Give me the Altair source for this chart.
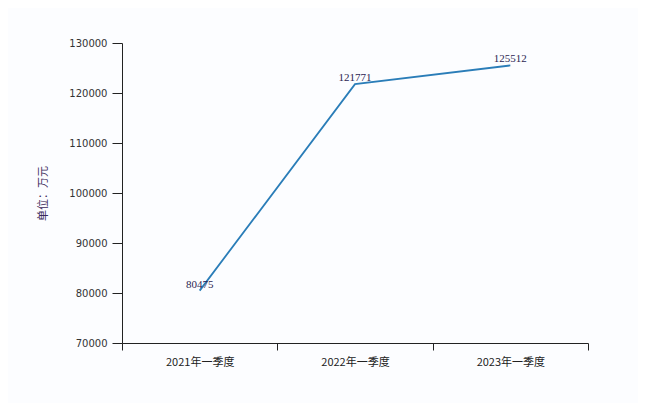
import altair as alt
import pandas as pd

quarters = ["2021年一季度", "2022年一季度", "2023年一季度"]
values = [80475, 121771, 125512]
labels = ["80475", "121771", "125512"]

df = pd.DataFrame({"q": quarters, "v": values, "lab": labels})

x_enc = alt.X("q:N", sort=quarters, title=None,
              scale=alt.Scale(paddingInner=0, paddingOuter=0),
              axis=alt.Axis(labelAngle=0, tickBand="extent", tickSize=7,
                            domainColor="#222", tickColor="#222", labelColor="#222",
                            labelFontSize=11, labelPadding=6, labelFont="Noto Sans CJK SC"))
y_enc = alt.Y("v:Q", title="单位：万元",
              scale=alt.Scale(domain=[70000, 130000], nice=False, zero=False),
              axis=alt.Axis(values=[70000, 80000, 90000, 100000, 110000, 120000, 130000],
                            format="d", grid=False, tickSize=10, labelPadding=5,
                            domainColor="#222", tickColor="#222", labelColor="#333",
                            labelFontSize=10, titleFontSize=11, titleColor="#3a2a5a",
                            titleFontWeight="normal", titlePadding=20,
                            titleFont="Noto Sans CJK SC", labelFont="DejaVu Sans"))

line = alt.Chart(df).mark_line(color="#2a7db8", strokeWidth=1.8).encode(x=x_enc, y=y_enc)

text = alt.Chart(df).mark_text(dy=-6, fontSize=11, color="#2b1d52",
                               font="Liberation Serif").encode(
    x=alt.X("q:N", sort=quarters), y="v:Q", text="lab:N")

chart = (line + text).properties(
    width=466, height=300,
    autosize=alt.AutoSizeParams(type="none"),
    padding={"left": 114, "top": 35, "right": 50, "bottom": 60},
    background="#fcfdff",
).configure_view(stroke=None)

chart.save("out.html", embed_options={"renderer": "svg", "actions": False})
